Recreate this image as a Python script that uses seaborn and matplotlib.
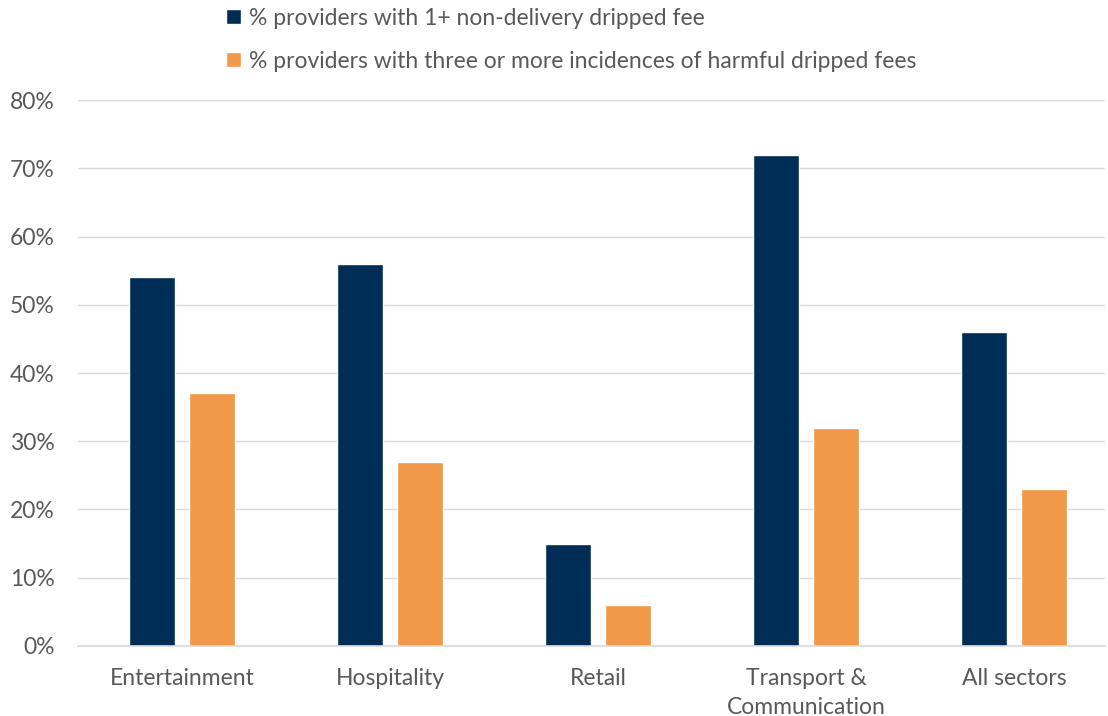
import matplotlib
matplotlib.use("Agg")
import matplotlib.pyplot as plt
import seaborn as sns
import pandas as pd
from matplotlib.patches import Patch
from matplotlib.ticker import FuncFormatter, MultipleLocator

sectors = ["Entertainment", "Hospitality", "Retail", "Transport &\nCommunication", "All sectors"]
series_names = [
    "% providers with 1+ non-delivery dripped fee",
    "% providers with three or more incidences of harmful dripped fees",
]
non_delivery = [54, 56, 15, 72, 46]
harmful_three_plus = [37, 27, 6, 32, 23]

navy = "#002D56"
orange = "#F2984A"
text_gray = "#595959"

df = pd.DataFrame({
    "sector": sectors * 2,
    "series": [series_names[0]] * len(sectors) + [series_names[1]] * len(sectors),
    "value": non_delivery + harmful_three_plus,
})

sns.set_theme(style="white")
plt.rcParams["font.family"] = ["Lato", "DejaVu Sans"]

fig = plt.figure(figsize=(11.08, 7.16), dpi=100)
ax = fig.add_axes([0.0704, 0.0978, 0.9269, 0.7625])

sns.barplot(data=df, x="sector", y="value", hue="series", order=sectors,
            hue_order=series_names, palette=[navy, orange], width=0.572, gap=0.22,
            saturation=1, ax=ax, legend=False)

ax.set_ylim(0, 80)
ax.set_xlim(-0.5, len(sectors) - 0.5625)
ax.yaxis.set_major_locator(MultipleLocator(10))
ax.yaxis.set_major_formatter(FuncFormatter(lambda v, _: f"{v:.0f}%"))
ax.grid(axis="y", color="#D9D9D9", linewidth=1)
ax.set_axisbelow(True)
for side in ["top", "right", "left"]:
    ax.spines[side].set_visible(False)
ax.spines["bottom"].set_color("#D9D9D9")
ax.spines["bottom"].set_linewidth(1.2)
ax.set_xlabel("")
ax.set_ylabel("")
ax.tick_params(axis="both", length=0, labelsize=16.5, labelcolor=text_gray)
ax.tick_params(axis="y", pad=17)
ax.tick_params(axis="x", pad=16)
for lbl in ax.get_xticklabels():
    lbl.set_linespacing(1.45)

handles = [Patch(facecolor=navy), Patch(facecolor=orange)]
fig.legend(handles, series_names, loc="upper left", bbox_to_anchor=(0.2040, 0.989),
           frameon=False, fontsize=16.5, labelcolor=text_gray, handlelength=0.65,
           handleheight=0.65, handletextpad=0.35, labelspacing=0.95, borderpad=0,
           borderaxespad=0)

fig.savefig("out.png", dpi=100)
